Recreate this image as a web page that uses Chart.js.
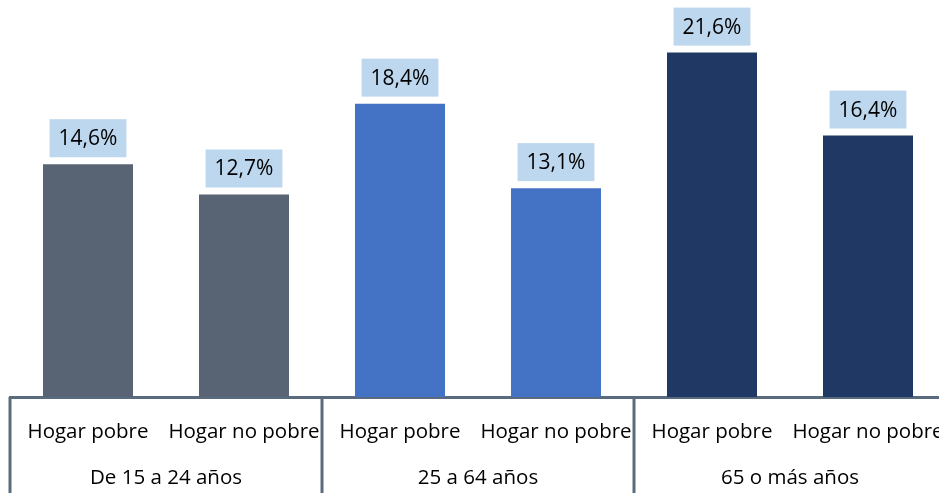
<!DOCTYPE html>
<html>
<head>
<meta charset="utf-8">
<script src="https://cdn.jsdelivr.net/npm/chart.js@4/dist/chart.umd.min.js"></script>
<style>
html,body{margin:0;padding:0;overflow:hidden;background:#fff;width:939px;height:493px;}
canvas{display:block;}
</style>
</head>
<body>
<canvas id="c" width="956" height="493" style="width:956px;height:493px"></canvas>
<script>
const categories = ['Hogar pobre','Hogar no pobre','Hogar pobre','Hogar no pobre','Hogar pobre','Hogar no pobre'];
const groups = ['De 15 a 24 años','25 a 64 años','65 o más años'];
const values = [14.6, 12.7, 18.4, 13.1, 21.6, 16.4];
const valueLabels = ['14,6%','12,7%','18,4%','13,1%','21,6%','16,4%'];
const barColors = ['#586473','#586473','#4472C4','#4472C4','#203864','#203864'];

const FONT = '"Open Sans", "Noto Sans", sans-serif';

const overlay = {
  id:'overlay',
  afterDatasetsDraw(chart){
    const ctx = chart.ctx;
    const meta = chart.getDatasetMeta(0);
    ctx.save();
    ctx.font = '21px ' + FONT;
    ctx.textAlign = 'center';
    ctx.textBaseline = 'middle';
    meta.data.forEach((bar,i)=>{
      const txt = valueLabels[i];
      const w = ctx.measureText(txt).width + 18;
      const h = 38;
      const bottom = bar.y - 7;
      ctx.fillStyle = '#BDD7EE';
      ctx.fillRect(bar.x - w/2, bottom - h, w, h);
      ctx.fillStyle = '#000';
      ctx.fillText(txt, bar.x, bottom - h/2 + 1);
    });
    ctx.restore();
  },
  afterDraw(chart){
    const ctx = chart.ctx;
    const xs = chart.scales.x;
    const step = xs.getPixelForValue(1) - xs.getPixelForValue(0);
    const top = chart.chartArea.bottom;
    ctx.save();
    ctx.strokeStyle = '#5B6B7F';
    ctx.lineWidth = 3;
    for (let g=0; g<=groups.length; g++){
      const px = Math.round(xs.getPixelForValue(0) - step/2 + g*2*step) ;
      ctx.beginPath();
      ctx.moveTo(px, top);
      ctx.lineTo(px, chart.height);
      ctx.stroke();
    }
    ctx.restore();
  }
};

function noSidePad(scale){ scale.paddingLeft = 0; scale.paddingRight = 0; }

new Chart(document.getElementById('c'), {
  type:'bar',
  data:{
    labels: categories,
    datasets:[{data: values, backgroundColor: barColors, barPercentage:0.577, categoryPercentage:1}]
  },
  options:{
    responsive:false,
    animation:false,
    layout:{padding:{left:10,right:10,top:0,bottom:5}},
    plugins:{legend:{display:false},tooltip:{enabled:false}},
    scales:{
      y:{display:false,min:0,max:24.9},
      x:{
        afterFit: noSidePad,
        grid:{display:false, drawTicks:false},
        border:{display:true,color:'#5B6B7F',width:3},
        ticks:{color:'#000',font:{family:FONT,size:20.5,lineHeight:1},padding:25,maxRotation:0,autoSkip:false}
      },
      x2:{
        afterFit: noSidePad,
        type:'category',
        position:'bottom',
        labels: groups,
        offset:true,
        grid:{display:false, drawTicks:false},
        border:{display:false},
        ticks:{color:'#000',font:{family:FONT,size:20.5,lineHeight:1},padding:0,maxRotation:0,autoSkip:false}
      }
    }
  },
  plugins:[overlay]
});
</script>
</body>
</html>
